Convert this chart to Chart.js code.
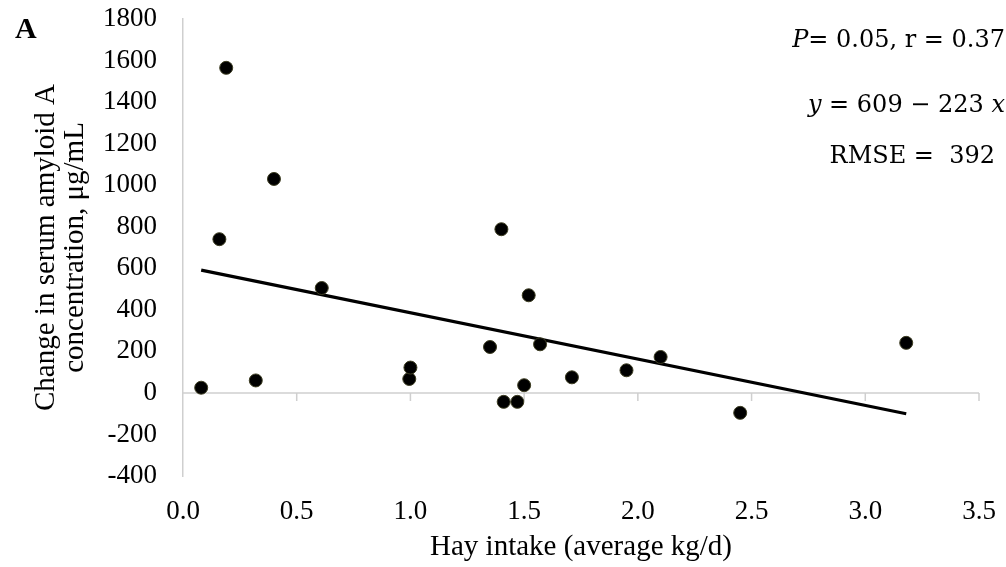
<!DOCTYPE html>
<html>
<head>
<meta charset="utf-8">
<script src="https://cdn.jsdelivr.net/npm/chart.js@4.4.1/dist/chart.umd.min.js"></script>
<style>
  html, body { margin: 0; padding: 0; background: #fff; }
  #wrap { width: 1006px; height: 567px; }
</style>
</head>
<body>
<div id="wrap"><canvas id="myChart"></canvas></div>
<script>
// hay intake (kg/d) and change in SAA (ug/mL), one entry per animal
var hayIntake = [0.08, 0.19, 0.16, 0.32, 0.40, 0.61, 0.995, 1.00, 1.35, 1.40,
                 1.41, 1.47, 1.50, 1.52, 1.57, 1.71, 1.95, 2.10, 2.45, 3.18];
var saaChange = [25, 1565, 740, 60, 1030, 505, 67, 122, 221, 788,
                 -43, -43, 37, 470, 234, 75, 109, 173, -96, 241];

// regression y = 609 - 223 x
var fitIntercept = 609;
var fitSlope = -223;

var xTicks = [0, 0.5, 1.0, 1.5, 2.0, 2.5, 3.0, 3.5];
var yTicks = [-400, -200, 0, 200, 400, 600, 800, 1000, 1200, 1400, 1600, 1800];

var points = hayIntake.map(function (x, i) {
  return { x: x, y: saaChange[i] };
});
var xMin = Math.min.apply(null, hayIntake);
var xMax = Math.max.apply(null, hayIntake);
var trend = [
  { x: xMin, y: fitIntercept + fitSlope * xMin },
  { x: xMax, y: fitIntercept + fitSlope * xMax },
];

var serif = "'Liberation Serif', 'Times New Roman', serif";
var mathSerif = "'DejaVu Serif', serif";
var axisGrey = "#cfcfcf";

Chart.defaults.font.family = serif;
Chart.defaults.font.size = 27;
Chart.defaults.color = "#000";

// horizontal axis line through zero with its tick marks
var zeroAxis = {
  id: "zeroAxis",
  beforeDatasetsDraw: function (chart) {
    var c = chart.ctx, xs = chart.scales.x, ys = chart.scales.y;
    var y0 = ys.getPixelForValue(0);
    c.save();
    c.strokeStyle = axisGrey;
    c.lineWidth = 1.5;
    c.beginPath();
    c.moveTo(chart.chartArea.left, y0);
    c.lineTo(chart.chartArea.right, y0);
    xTicks.forEach(function (t) {
      if (t === 0) return;
      var px = xs.getPixelForValue(t);
      c.moveTo(px, y0);
      c.lineTo(px, y0 + 8);
    });
    c.stroke();
    c.restore();
  },
};

// panel letter and the statistics text
function drawPieces(c, pieces, right, baseline) {
  var w = 0;
  pieces.forEach(function (p) {
    c.font = p[1];
    w += c.measureText(p[0]).width;
  });
  var x = right - w;
  pieces.forEach(function (p) {
    c.font = p[1];
    c.fillText(p[0], x, baseline);
    x += c.measureText(p[0]).width;
  });
}

var annotations = {
  id: "annotations",
  afterDraw: function (chart) {
    var c = chart.ctx;
    var reg = "24px " + mathSerif, ital = "italic 24px " + mathSerif;
    c.save();
    c.fillStyle = "#000";
    c.textBaseline = "alphabetic";
    c.textAlign = "left";
    c.font = "bold 30px " + serif;
    c.fillText("A", 15, 38);

    drawPieces(c, [["P", ital], ["= 0.05, r = 0.37", reg]], 1005, 47);
    drawPieces(c, [["y", ital], [" = 609 \u2212 223 ", reg], ["x", ital]], 1005, 112);
    drawPieces(c, [["RMSE =  392", reg]], 995, 163);
    c.restore();
  },
};

var ctx = document.getElementById("myChart").getContext("2d");
var myChart = new Chart(ctx, {
  type: "scatter",
  data: {
    datasets: [
      {
        label: "SAA",
        data: points,
        backgroundColor: "#000",
        borderColor: "#3d3d22",
        borderWidth: 1,
        pointRadius: 6.5,
        order: 1,
      },
      {
        type: "line",
        label: "Linear fit",
        data: trend,
        borderColor: "#000",
        borderWidth: 3.2,
        pointRadius: 0,
        fill: false,
        order: 2,
      },
    ],
  },
  options: {
    responsive: true,
    maintainAspectRatio: false,
    animation: false,
    layout: { padding: { top: 19, right: 27, left: 0, bottom: 0 } },
    plugins: {
      legend: { display: false },
      tooltip: { enabled: false },
    },
    scales: {
      x: {
        type: "linear",
        min: 0,
        max: 3.5,
        afterBuildTicks: function (s) {
          s.ticks = xTicks.map(function (v) { return { value: v }; });
        },
        ticks: {
          padding: 0,
          callback: function (v) { return v.toFixed(1); },
        },
        // tick marks hidden; tickLength only spaces the labels from the plot
        grid: { display: false, drawTicks: true, tickLength: 20 },
        border: { display: false },
        title: {
          display: true,
          text: "Hay intake (average kg/d)",
          font: { size: 29 },
          padding: { top: 0, bottom: 2 },
        },
        afterFit: function (s) { s.height = 91; },
      },
      y: {
        type: "linear",
        min: -400,
        max: 1800,
        afterBuildTicks: function (s) {
          s.ticks = yTicks.map(function (v) { return { value: v }; });
        },
        ticks: {
          padding: 0,
          callback: function (v) { return String(v); },
        },
        grid: { display: false, drawTicks: true, tickLength: 26 },
        border: { display: true, color: axisGrey, width: 1.5 },
        title: {
          display: true,
          text: ["Change in serum amyloid A", "concentration, \u03bcg/mL"],
          font: { size: 29, lineHeight: 1.03 },
          padding: { top: 31, bottom: 0 },
        },
        afterFit: function (s) { s.width = 183; },
      },
    },
  },
  plugins: [zeroAxis, annotations],
});
</script>
</body>
</html>
